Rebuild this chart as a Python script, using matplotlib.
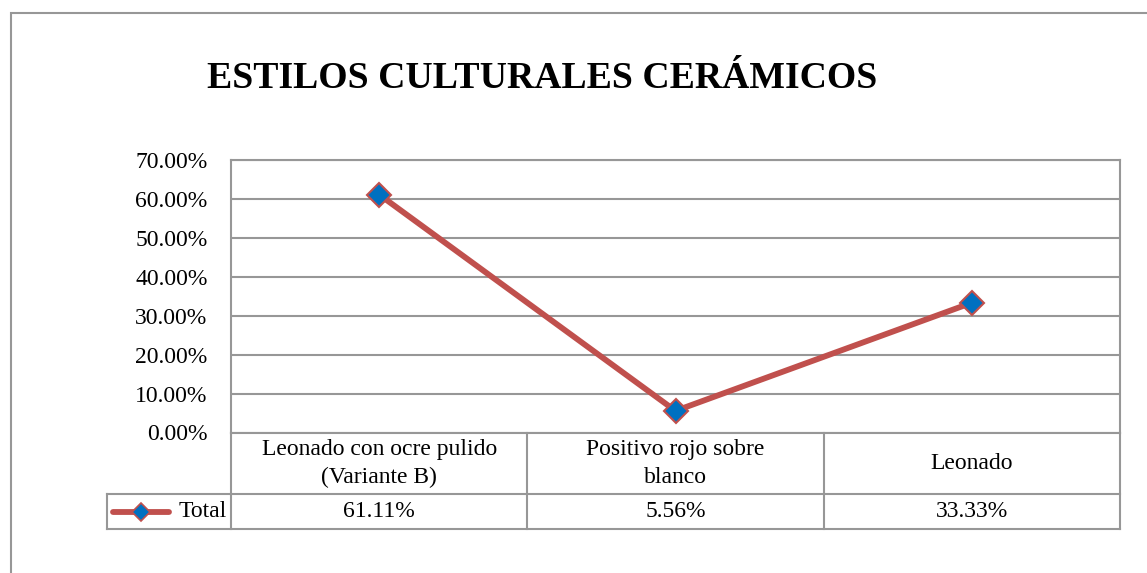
import numpy as np
import matplotlib.pyplot as plt
from matplotlib.lines import Line2D
from matplotlib.patches import Rectangle

plt.rcParams['font.family'] = ['Liberation Serif', 'DejaVu Serif']

# datos
categorias = ["Leonado con ocre pulido\n(Variante B)", "Positivo rojo sobre\nblanco", "Leonado"]
valores = [61.11, 5.56, 33.33]
etiquetas = ["61.11%", "5.56%", "33.33%"]
serie = "Total"
yticks = [0, 10, 20, 30, 40, 50, 60, 70]

W, H = 1147, 573
fig = plt.figure(figsize=(W / 100, H / 100), dpi=100)
gris = "#979797"
fs = 17

# marco exterior (cortado a la derecha y abajo)
fig.add_artist(Rectangle((10.5 / W, -0.1), 1.2, 1 - 12.5 / H + 0.1, transform=fig.transFigure,
                         fill=False, edgecolor=gris, linewidth=1.5))

# area de trazado
x0, x1, ytop, ybot = 231, 1120, 160, 432.5
ax = fig.add_axes([x0 / W, 1 - ybot / H, (x1 - x0) / W, (ybot - ytop) / H])
x = np.arange(len(valores))
ax.set_xlim(-0.5, len(valores) - 0.5)
ax.set_ylim(0, 70)
ax.set_yticks(yticks)
ax.set_yticklabels(["%.2f%%" % t for t in yticks], fontsize=fs)
ax.tick_params(axis='y', length=0, pad=17)
ax.set_xticks([])
for t in yticks:
    ax.axhline(t, color=gris, linewidth=1.5, zorder=1)
for s in ax.spines.values():
    s.set_color(gris)
    s.set_linewidth(1.5)

ax.plot(x, valores, color="#C0504D", linewidth=4.2, marker="D", markersize=12,
        markerfacecolor="#0070C0", markeredgecolor="#C0504D", markeredgewidth=1.5,
        zorder=3, clip_on=False)

# tabla de datos
alto = ybot - ytop
r1 = -(494 - ybot) / alto
r2 = -(529 - ybot) / alto
xl = (107 - x0) / (x1 - x0)
tr = ax.transAxes
kw = dict(color=gris, linewidth=1.5, transform=tr, clip_on=False)
ax.add_line(Line2D([0, 0], [0, r2], **kw))
ax.add_line(Line2D([1, 1], [0, r2], **kw))
for i in range(1, len(valores)):
    ax.add_line(Line2D([i / 3, i / 3], [0, r2], **kw))
ax.add_line(Line2D([xl, 1], [r1, r1], **kw))
ax.add_line(Line2D([xl, 1], [r2, r2], **kw))
ax.add_line(Line2D([xl, xl], [r1, r2], **kw))

for i, (c, e) in enumerate(zip(categorias, etiquetas)):
    xc = (i + 0.5) / 3
    ax.text(xc, r1 / 2, c, transform=tr, ha="center", va="center", fontsize=fs,
            linespacing=1.45)
    ax.text(xc, (r1 + r2) / 2, e, transform=tr, ha="center", va="center", fontsize=fs)

# leyenda en la tabla
ym = (r1 + r2) / 2
lx0 = (113 - x0) / (x1 - x0)
lx1 = (169 - x0) / (x1 - x0)
ax.add_line(Line2D([lx0, lx1], [ym, ym], color="#C0504D", linewidth=4.2, transform=tr,
                   clip_on=False, solid_capstyle="round"))
ax.add_line(Line2D([(lx0 + lx1) / 2], [ym], marker="D", markersize=9, markerfacecolor="#0070C0",
                   markeredgecolor="#C0504D", markeredgewidth=1.2, transform=tr, clip_on=False))
ax.text(-0.005, ym, serie, transform=tr, ha="right", va="center", fontsize=fs)

fig.text(207 / W, 1 - 78 / H, "ESTILOS CULTURALES CERÁMICOS", fontsize=27.2, fontweight="bold",
         ha="left", va="center")

fig.savefig("out.png", dpi=100)
